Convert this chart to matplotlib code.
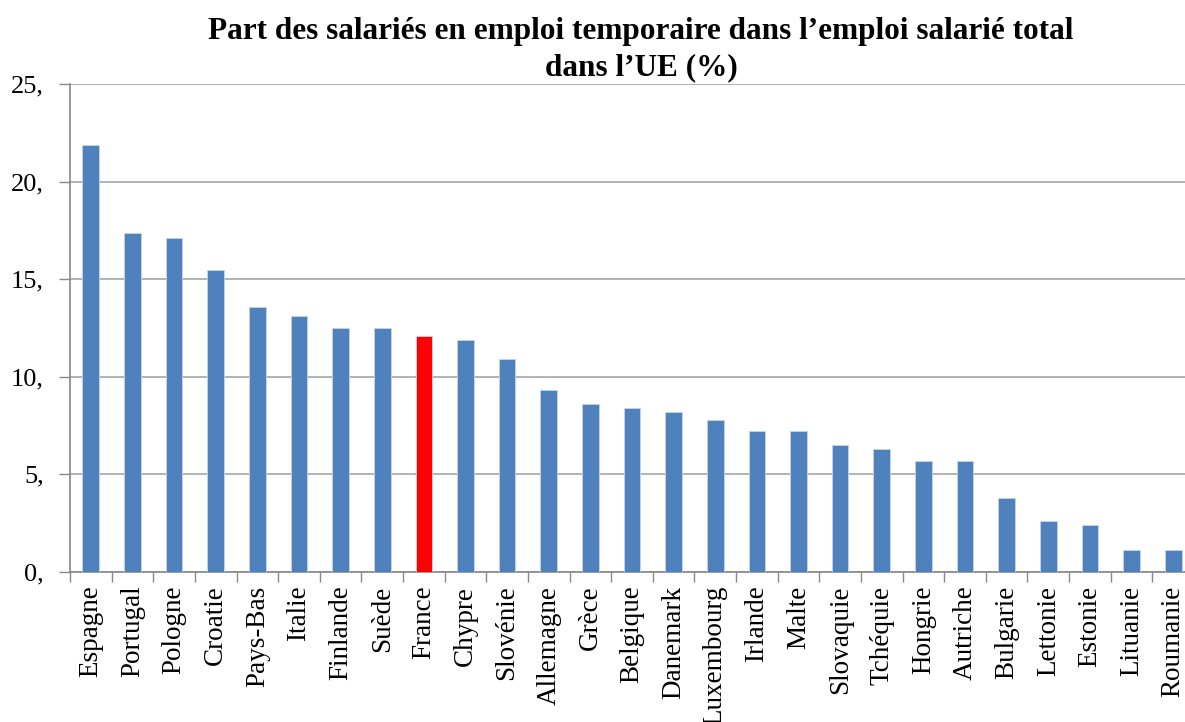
import matplotlib
matplotlib.use("Agg")
import matplotlib.pyplot as plt
import numpy as np

countries = ["Espagne", "Portugal", "Pologne", "Croatie", "Pays-Bas", "Italie",
             "Finlande", "Suède", "France", "Chypre", "Slovénie", "Allemagne",
             "Grèce", "Belgique", "Danemark", "Luxembourg", "Irlande", "Malte",
             "Slovaquie", "Tchéquie", "Hongrie", "Autriche", "Bulgarie",
             "Lettonie", "Estonie", "Lituanie", "Roumanie"]
values = [21.9, 17.4, 17.1, 15.5, 13.6, 13.1, 12.5, 12.5, 12.1, 11.9, 10.9, 9.3,
          8.6, 8.4, 8.2, 7.8, 7.2, 7.2, 6.5, 6.3, 5.7, 5.7, 3.8, 2.6, 2.4, 1.1, 1.1]
highlight = "France"
yticks = [0, 5, 10, 15, 20, 25]
ytick_labels = ["0,", "5,", "10,", "15,", "20,", "25,"]
title_lines = ["Part des salariés en emploi temporaire dans l’emploi salarié total",
               "dans l’UE (%)"]

W, H = 1185, 722
fig = plt.figure(figsize=(W / 100, H / 100), dpi=100)
left, right, top, bottom = 70, 1194, 84.3, 571.8
ax = fig.add_axes([left / W, 1 - bottom / H, (right - left) / W, (bottom - top) / H])

serif = ["Liberation Serif", "DejaVu Serif"]
colors = ["#FF0000" if c == highlight else "#4F81BD" for c in countries]
x = np.arange(len(countries))
ax.bar(x, values, width=0.40, color=colors, edgecolor="#C6D4E8", linewidth=0.6, zorder=3)

ax.set_xlim(-0.5, len(countries) - 0.5)
ax.set_ylim(0, 25)
ax.set_yticks(yticks)
ax.set_yticklabels(ytick_labels, fontfamily=serif, fontsize=19)
ax.yaxis.grid(True, color="#A6A6A6", linewidth=1.2, zorder=0)
ax.set_axisbelow(True)

ax.set_xticks(x)
ax.set_xticklabels(countries, rotation=90, fontfamily=serif, fontsize=19.5)
ax.set_xticks(np.arange(len(countries) + 1) - 0.5, minor=True)
ax.tick_params(axis="x", which="major", length=0, pad=10)
ax.tick_params(axis="x", which="minor", length=7, color="#888888", width=1)
ax.tick_params(axis="y", length=8, color="#888888", width=1, pad=11)

for s in ["top", "right"]:
    ax.spines[s].set_visible(False)
for s in ["left", "bottom"]:
    ax.spines[s].set_color("#888888")
    ax.spines[s].set_linewidth(1.2)

fig.text(641 / W, 1 - 39 / H, title_lines[0], ha="center", va="baseline",
         fontfamily=serif, fontweight="bold", fontsize=22.5)
fig.text(641 / W, 1 - 75 / H, title_lines[1], ha="center", va="baseline",
         fontfamily=serif, fontweight="bold", fontsize=22.5)

fig.savefig("out.png", dpi=100, facecolor="white")
